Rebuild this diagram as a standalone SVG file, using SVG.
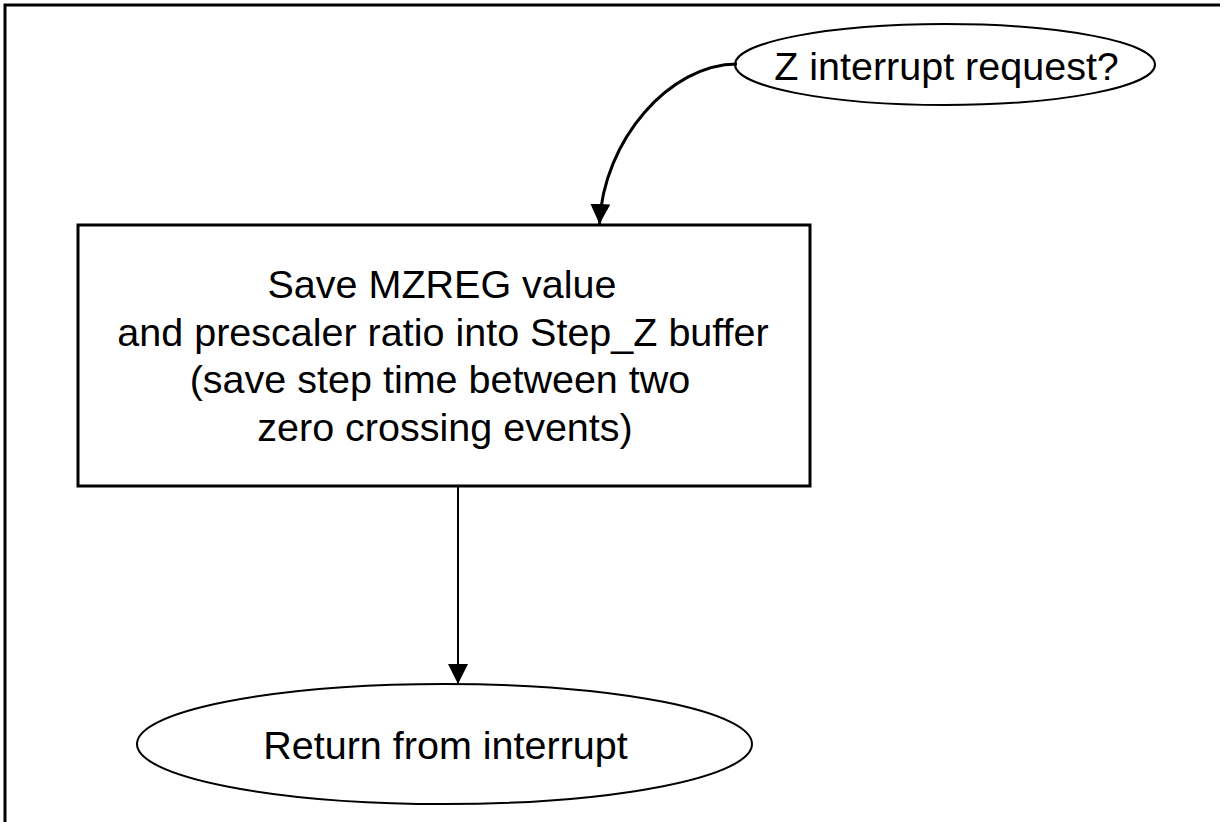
<svg xmlns="http://www.w3.org/2000/svg" width="1224" height="822" viewBox="0 0 1224 822">
  <style>
    .lbl { font-family: "Liberation Sans", Arial, Helvetica, sans-serif; font-size: 39.5px; fill: #000; text-anchor: middle; }
    .shape { fill: #fff; stroke: #000; }
    .conn { fill: none; stroke: #000; }
  </style>
  <defs>
    <marker id="arrow" markerUnits="userSpaceOnUse" markerWidth="20" markerHeight="20" viewBox="0 0 20 20" refX="20" refY="10" orient="auto">
      <path d="M0,0 L20,10 L0,20 Z" fill="#000"/>
    </marker>
  </defs>
  <rect width="1224" height="822" fill="#fff"/>
  <path d="M5,822 L5,5 L1220,5" fill="none" stroke="#000" stroke-width="3"/>

  <g id="node-start">
    <ellipse class="shape" cx="945" cy="64.5" rx="210" ry="40.5" stroke-width="2"/>
    <text class="lbl" x="946.5" y="80">Z interrupt request?</text>
  </g>

  <g id="node-save">
    <rect class="shape" x="78" y="225" width="732" height="261" stroke-width="3"/>
    <text class="lbl" x="442" y="298">Save MZREG value</text>
    <text class="lbl" x="443" y="346">and prescaler ratio into Step_Z buffer</text>
    <text class="lbl" x="440" y="393">(save step time between two</text>
    <text class="lbl" x="445" y="441">zero crossing events)</text>
  </g>

  <g id="node-return">
    <ellipse class="shape" cx="444.5" cy="744" rx="307.5" ry="60" stroke-width="2"/>
    <text class="lbl" x="445.5" y="759">Return from interrupt</text>
  </g>

  <g id="connectors">
    <path class="conn" d="M737,64 C670,64 603,140 599.5,224" stroke-width="3" marker-end="url(#arrow)"/>
    <path class="conn" d="M458,486 L458,684" stroke-width="2" marker-end="url(#arrow)"/>
  </g>
</svg>
